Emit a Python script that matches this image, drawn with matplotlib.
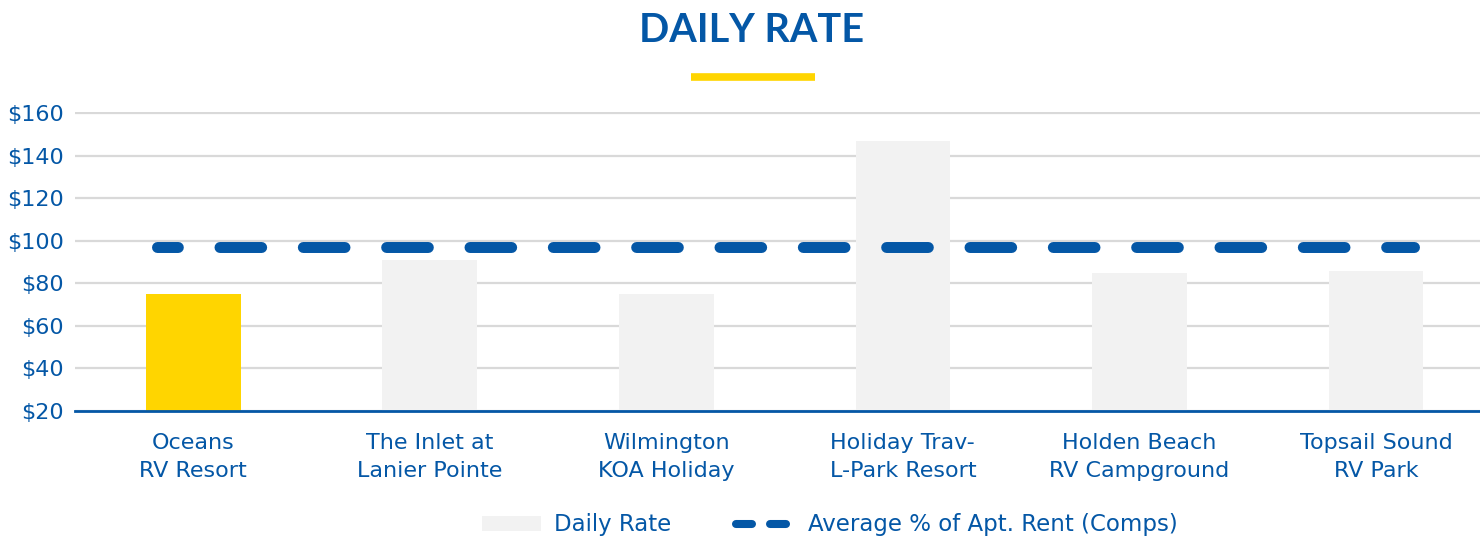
import numpy as np
import matplotlib.pyplot as plt
from matplotlib.patches import Patch
from matplotlib.lines import Line2D

# chart data
categories = ["Oceans\nRV Resort", "The Inlet at\nLanier Pointe", "Wilmington\nKOA Holiday",
              "Holiday Trav-\nL-Park Resort", "Holden Beach\nRV Campground", "Topsail Sound\nRV Park"]
daily_rate = [75, 91, 75, 147, 85, 86]
avg_rent = 97
yticks = [20, 40, 60, 80, 100, 120, 140, 160]

BLUE = "#0457A6"
YELLOW = "#FFD500"
GREY = "#F2F2F2"

plt.rcParams['font.family'] = ['DejaVu Sans']
plt.rcParams['lines.scale_dashes'] = False

fig = plt.figure(figsize=(14.8, 5.38), dpi=100)
ax = fig.add_axes([75 / 1480, 1 - 411 / 538, 1 - 75 / 1480, (411 - 112.4) / 538])

x = np.arange(len(categories))
colors = [YELLOW] + [GREY] * (len(categories) - 1)
ax.bar(x, np.array(daily_rate) - 20, bottom=20, width=0.4, color=colors, zorder=2)

# dashed average line
ax.plot([-0.152, 5.16], [avg_rent, avg_rent], color=BLUE, lw=7.9,
        linestyle=(15, (30, 30)), dash_capstyle='round', zorder=3)

ax.set_xlim(-0.5, 5.44)
ax.set_ylim(20, 160.3)
ax.set_yticks(yticks)
ax.set_yticklabels(["${}".format(v) for v in yticks], color=BLUE, fontsize=16)
ax.set_xticks(x)
ax.set_xticklabels(categories, color=BLUE, fontsize=16, linespacing=1.5)
ax.tick_params(axis='both', length=0)
ax.tick_params(axis='y', pad=8)
ax.tick_params(axis='x', pad=16)
ax.grid(axis='y', color='#D9D9D9', lw=1.6, zorder=0)
for s in ['top', 'right', 'left']:
    ax.spines[s].set_visible(False)
ax.spines['bottom'].set_color(BLUE)
ax.spines['bottom'].set_linewidth(2)
ax.spines['bottom'].set_zorder(4)
ax.set_axisbelow(True)

# title with yellow underline
fig.text(752 / 1480, 1 - 30 / 538, "DAILY RATE", ha='center', va='center',
         fontsize=28.5, fontweight='bold', color=BLUE, family=['Lato', 'DejaVu Sans'])
fig.add_artist(Line2D([691 / 1480, 815 / 1480], [1 - 77.5 / 538, 1 - 77.5 / 538],
                      color=YELLOW, lw=5.5, solid_capstyle='butt'))

handles = [Patch(facecolor=GREY, edgecolor='none', label="Daily Rate"),
           Line2D([0], [0], color=BLUE, lw=5.8, linestyle=(0, (11.5, 13)),
                  dash_capstyle='round', label="Average % of Apt. Rent (Comps)")]
fig.legend(handles=handles, loc='center', bbox_to_anchor=(830 / 1480, 1 - 525 / 538),
           ncol=2, frameon=False, fontsize=16.5, labelcolor=BLUE, handlelength=2.55,
           handleheight=0.61, columnspacing=2.85, handletextpad=0.57)

fig.savefig("out.png", dpi=100)
